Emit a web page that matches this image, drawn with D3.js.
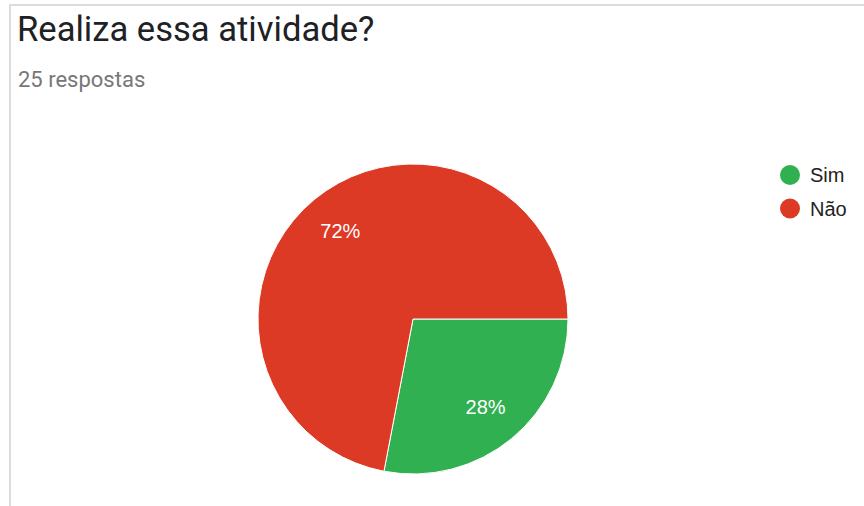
<!DOCTYPE html>
<html>
<head>
<meta charset="utf-8">
<script src="https://cdn.jsdelivr.net/npm/d3@7"></script>
<style>
  html, body { margin: 0; padding: 0; background: #fff; }
  svg { display: block; }
</style>
</head>
<body>
<svg id="chart" width="864" height="506"></svg>
<script>
// Survey answers for "Realiza essa atividade?"
const title = "Realiza essa atividade?";
const subtitle = "25 respostas";
const categories = ["Sim", "Não"];
const counts = [7, 18];
const colors = ["#30B050", "#DC3A25"];

const svg = d3.select("#chart");
const W = 864, H = 506;

// card border (top and left edges visible)
svg.append("line").attr("x1", 9).attr("x2", W).attr("y1", 5).attr("y2", 5)
  .attr("stroke", "#dcdcdc").attr("stroke-width", 2);
svg.append("line").attr("x1", 10).attr("x2", 10).attr("y1", 4).attr("y2", H)
  .attr("stroke", "#dcdcdc").attr("stroke-width", 2);

svg.append("text").attr("x", 17).attr("y", 41)
  .attr("font-family", "Roboto, Arial, sans-serif").attr("font-size", 34.6)
  .attr("fill", "#202124").text(title);
svg.append("text").attr("x", 18).attr("y", 87)
  .attr("font-family", "Roboto, Arial, sans-serif").attr("font-size", 22)
  .attr("fill", "#777").text(subtitle);

const total = d3.sum(counts);
const data = categories.map((c, i) => ({ name: c, value: counts[i], color: colors[i] }));

const cx = 413, cy = 319, r = 155;
const pie = d3.pie().value(d => d.value).sort(null)
  .startAngle(Math.PI / 2).endAngle(Math.PI / 2 + 2 * Math.PI);
const arcs = pie(data);
const arc = d3.arc().innerRadius(0).outerRadius(r);
const labelArc = d3.arc().innerRadius(r * 0.735).outerRadius(r * 0.735);

const g = svg.append("g").attr("transform", `translate(${cx},${cy})`);
g.selectAll("path.slice").data(arcs).join("path")
  .attr("class", "slice")
  .attr("d", arc)
  .attr("fill", d => d.data.color)
  .attr("stroke", "#fff").attr("stroke-width", 1);

g.selectAll("text.pct").data(arcs).join("text")
  .attr("class", "pct")
  .attr("transform", d => `translate(${labelArc.centroid(d)})`)
  .attr("text-anchor", "middle").attr("dy", "0.36em")
  .attr("font-family", "Arial, 'Liberation Sans', sans-serif").attr("font-size", 20)
  .attr("fill", "#fff")
  .text(d => Math.round(d.data.value / total * 100) + "%");

// legend
const legend = svg.append("g");
const items = legend.selectAll("g").data(data).join("g")
  .attr("transform", (d, i) => `translate(790,${175 + i * 33.5})`);
items.append("circle").attr("r", 10).attr("fill", d => d.color);
items.append("text").attr("x", 20).attr("dy", "0.36em")
  .attr("font-family", "Arial, 'Liberation Sans', sans-serif").attr("font-size", 20)
  .attr("fill", "#222").text(d => d.name);
</script>
</body>
</html>
